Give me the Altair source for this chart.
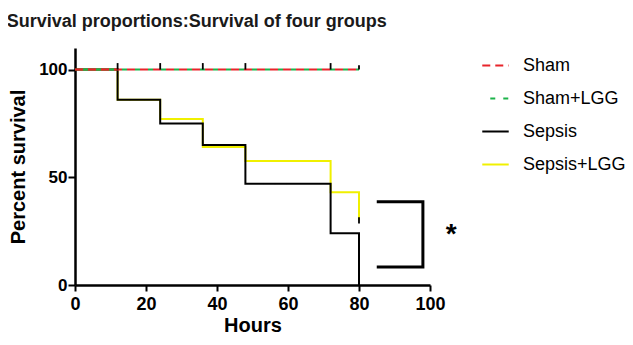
import altair as alt
import pandas as pd

series = ["Sham", "Sham+LGG", "Sepsis", "Sepsis+LGG"]
colors = ["#e8242b", "#1db34a", "#000000", "#f0f000"]
dashes = [[8, 5], [0, 8, 5, 0], [1, 0], [1, 0]]

sham_t = [0, 80]
sham_v = [100, 100]
shamlgg_t = [0, 80]
shamlgg_v = [100, 100]
sepsis_t = [0, 12, 24, 36, 48, 72, 80]
sepsis_v = [100, 86, 75, 65, 47, 24, 0]
sepsislgg_t = [0, 12, 24, 36, 48, 72, 80]
sepsislgg_v = [100, 86, 77, 64, 57.5, 43, 30]

censor_t = [12, 24, 36, 48, 72, 80, 80]
censor_lo = [100, 100, 100, 100, 100, 100, 28.5]
censor_hi = [103, 103, 103, 103, 103, 102, 31.5]

bracket_x = [85, 98, 98, 85]
bracket_y = [38.6, 38.6, 8.4, 8.4]
star_x = [106]
star_y = [23]

FONT = "Liberation Sans"

def df_for(name, t, v):
    return pd.DataFrame({"Hours": t, "Survival": v, "Group": name})

curves = {
    "Sham": df_for("Sham", sham_t, sham_v),
    "Sham+LGG": df_for("Sham+LGG", shamlgg_t, shamlgg_v),
    "Sepsis": df_for("Sepsis", sepsis_t, sepsis_v),
    "Sepsis+LGG": df_for("Sepsis+LGG", sepsislgg_t, sepsislgg_v),
}

xscale = alt.Scale(domain=[0, 100], nice=False)
yscale = alt.Scale(domain=[0, 110], nice=False)
color_scale = alt.Scale(domain=series, range=colors)
dash_scale = alt.Scale(domain=series, range=dashes)

xaxis = alt.Axis(values=[0, 20, 40, 60, 80, 100], title="Hours", grid=False,
                 labelFontSize=18, titleFontSize=20, titlePadding=2, labelPadding=4,
                 labelFlush=False, labelOverlap=False)
yaxis = alt.Axis(values=[0, 50, 100], title="Percent survival", grid=False,
                 labelFontSize=17, titleFontSize=20, titlePadding=10, labelPadding=1,
                 tickSize=7, labelFlush=False, labelOverlap=False)

legend = alt.Legend(title=None, orient="none", legendX=406, legendY=3,
                    symbolType="stroke", symbolStrokeWidth=2, symbolSize=700,
                    labelFontSize=18, labelFont=FONT, labelOffset=13,
                    rowPadding=9, labelFontWeight="normal")

def curve_layer(name):
    return alt.Chart(curves[name]).mark_line(interpolate="step-after", strokeWidth=2).encode(
        x=alt.X("Hours:Q", scale=xscale, axis=xaxis),
        y=alt.Y("Survival:Q", scale=yscale, axis=yaxis),
        color=alt.Color("Group:N", scale=color_scale, legend=legend),
        strokeDash=alt.StrokeDash("Group:N", scale=dash_scale, legend=legend),
    )

layers = [curve_layer(n) for n in ["Sepsis+LGG", "Sepsis", "Sham+LGG", "Sham"]]

censor = alt.Chart(pd.DataFrame({"t": censor_t, "lo": censor_lo, "hi": censor_hi})).mark_rule(
    color="black", strokeWidth=1.8).encode(
    x=alt.X("t:Q", scale=xscale),
    y=alt.Y("lo:Q", scale=yscale),
    y2="hi:Q",
)

bracket = alt.Chart(pd.DataFrame({"x": bracket_x, "y": bracket_y, "o": [0, 1, 2, 3]})).mark_line(
    color="black", strokeWidth=3, clip=False).encode(
    x=alt.X("x:Q", scale=xscale),
    y=alt.Y("y:Q", scale=yscale),
    order="o:Q",
)

star = alt.Chart(pd.DataFrame({"x": star_x, "y": star_y, "s": ["*"]})).mark_text(
    fontSize=28, fontWeight="bold", font=FONT, color="black", baseline="middle").encode(
    x=alt.X("x:Q", scale=xscale),
    y=alt.Y("y:Q", scale=yscale),
    text="s:N",
)

chart = alt.layer(*layers, censor, bracket, star).properties(
    width=355, height=237,
    autosize=alt.AutoSizeParams(type="none"),
    padding={"left": 67, "top": 40, "right": 195, "bottom": 52},
    title=alt.Title("Survival proportions:Survival of four groups", anchor="start",
                    frame="bounds", dx=-2, offset=17, fontSize=18, font=FONT,
                    fontWeight="bold", color="#1a1a1a"),
).configure_view(stroke=None).configure_axis(
    domainColor="black", domainWidth=2.5, tickColor="black", tickWidth=2, tickSize=6,
    labelFont=FONT, titleFont=FONT, labelFontWeight="bold", titleFontWeight="bold",
    labelColor="black", titleColor="black",
).configure_legend(labelColor="black")

chart.save("out.html", embed_options={"renderer": "svg", "actions": False})
